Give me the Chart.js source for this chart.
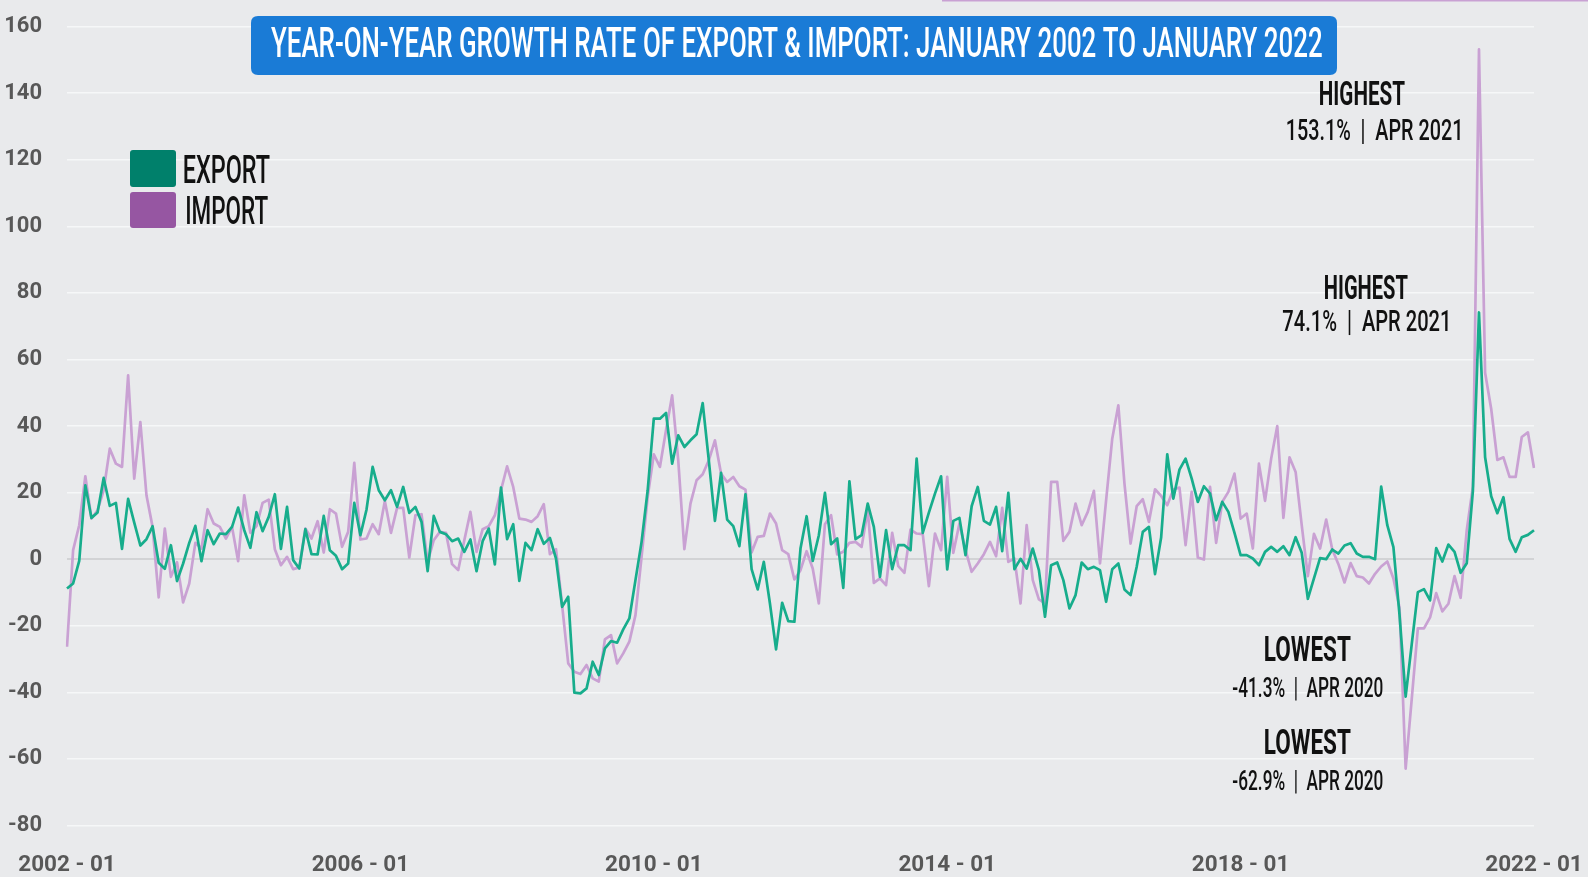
<!DOCTYPE html>
<html>
<head>
<meta charset="utf-8">
<title>Year-on-Year Growth Rate of Export & Import</title>
<script src="https://cdn.jsdelivr.net/npm/chart.js@4"></script>
<style>
  html, body { margin: 0; padding: 0; background: #e9eaec; }
  #wrap { width: 1588px; height: 877px; position: relative; }
  canvas { display: block; }
</style>
</head>
<body>
<div id="wrap"><canvas id="chart" width="1588" height="877"></canvas></div>
<script>
// ---------- DATA ----------
const startYear = 2002;
const monthCount = 241; // Jan 2002 .. Jan 2022
const categories = [];
for (let i = 0; i < monthCount; i++) {
  const y = startYear + Math.floor(i / 12);
  const m = (i % 12) + 1;
  categories.push(y + ' - ' + (m < 10 ? '0' + m : '' + m));
}

const xTickLabels = ['2002 - 01', '2006 - 01', '2010 - 01', '2014 - 01', '2018 - 01', '2022 - 01'];
const yTickValues = [-80, -60, -40, -20, 0, 20, 40, 60, 80, 100, 120, 140, 160];

const exportGrowth = [
  -8.8, -7.3, -0.5, 22.2, 12.4, 14.0, 24.4, 16.0, 16.9, 3.1, 18.1, 11.0,
  4.1, 6.0, 9.9, -1.1, -2.9, 4.2, -6.6, -1.3, 4.9, 10.0, -0.6, 8.7,
  4.5, 7.7, 7.5, 9.7, 15.5, 8.7, 3.4, 14.1, 8.4, 12.7, 19.5, 3.1,
  15.7, -0.3, -2.8, 9.0, 1.5, 1.4, 13.0, 2.7, 1.0, -3.0, -1.3, 16.9,
  7.2, 14.9, 27.7, 20.7, 17.7, 20.7, 15.7, 21.7, 13.9, 15.7, 11.2, -3.6,
  13.0, 8.2, 7.5, 5.4, 6.2, 2.2, 5.9, -3.6, 5.4, 9.2, -1.6, 21.5,
  6.0, 10.5, -6.5, 4.9, 2.7, 9.0, 4.6, 6.4, 0.2, -14.3, -11.3, -40.1,
  -40.3, -38.8, -30.8, -34.8, -26.8, -24.6, -25.1, -21.1, -17.8, -6.3, 5.2, 20.7,
  42.2, 42.2, 43.9, 28.7, 37.2, 33.7, 35.7, 37.5, 46.9, 29.7, 11.5, 25.9,
  11.9, 9.9, 3.9, 19.5, -3.0, -9.1, -0.8, -13.3, -27.1, -13.1, -18.6, -18.8,
  3.2, 12.9, -0.5, 7.2, 19.9, 4.5, 6.2, -8.6, 23.4, 6.0, 7.2, 16.7,
  9.7, -5.3, 8.7, -3.0, 4.2, 4.2, 2.7, 30.2, 7.9, 14.0, 19.7, 24.9,
  -3.1, 11.5, 12.4, 1.2, 15.9, 21.7, 11.5, 10.4, 15.7, 2.4, 19.9, -3.0,
  0.1, -2.8, 3.2, -3.3, -17.3, -1.8, -1.0, -6.3, -14.8, -10.8, -1.0, -3.0,
  -2.3, -3.3, -12.8, -3.0, -1.3, -9.1, -10.8, -2.3, 8.2, 9.7, -4.5, 6.5,
  31.5, 18.2, 26.9, 30.2, 24.2, 17.2, 21.9, 19.7, 11.7, 17.2, 14.2, 7.9,
  1.2, 1.2, 0.2, -1.8, 2.2, 3.7, 2.2, 3.9, 1.2, 6.6, 1.9, -11.9,
  -5.8, 0.3, 0.0, 2.9, 1.7, 4.1, 4.8, 1.7, 0.7, 0.7, 0.0, 21.8,
  10.2, 3.6, -16.7, -41.3, -25.5, -9.9, -9.0, -12.4, 3.3, -0.7, 4.4, 2.2,
  -4.1, -1.2, 20.4, 74.1, 30.6, 18.9, 13.8, 18.6, 6.1, 2.2, 6.6, 7.3,
  8.7
];

const importGrowth = [
  -26.3, 2.7, 10.2, 24.9, 12.2, 14.7, 20.7, 33.2, 28.7, 27.7, 55.2, 24.2,
  41.2, 19.2, 9.7, -11.5, 9.2, -5.3, -0.9, -13.0, -7.3, 4.9, 3.2, 15.0,
  10.7, 9.7, 6.2, 9.7, -0.6, 19.2, 7.9, 9.9, 16.9, 17.9, 3.0, -1.8,
  0.7, -3.0, -2.5, 9.2, 6.2, 11.4, 2.0, 15.0, 13.7, 3.7, 8.2, 28.9,
  5.9, 6.2, 10.5, 7.5, 17.5, 7.9, 15.4, 15.4, 0.5, 13.2, 13.5, -0.8,
  5.7, 8.2, 7.9, -1.5, -3.3, 5.7, 14.2, 2.2, 9.0, 9.9, 13.2, 20.7,
  27.9, 21.7, 12.2, 11.9, 11.2, 12.9, 16.5, 1.5, 3.0, -13.8, -31.3, -33.8,
  -34.5, -31.8, -35.8, -36.8, -24.1, -22.8, -31.3, -28.3, -24.8, -16.8, 0.7, 18.7,
  31.5, 27.7, 38.7, 49.2, 29.7, 3.0, 16.7, 23.7, 25.5, 29.7, 35.7, 25.7,
  23.2, 24.7, 21.9, 20.9, 2.0, 6.7, 7.0, 13.7, 10.7, 2.7, 1.5, -6.1,
  -3.3, 2.4, -2.8, -13.3, 10.5, 13.2, 1.4, 2.2, 4.9, 5.2, 3.7, 14.7,
  -7.1, -5.8, -7.8, 7.9, -2.1, -4.1, 8.9, 7.7, 7.5, -8.1, 7.7, 2.7,
  24.7, 1.9, 10.7, 2.7, -3.8, -1.3, 1.5, 5.2, 0.9, 15.4, -0.8, 0.2,
  -13.3, 10.2, -6.3, -12.1, -13.3, 23.2, 23.2, 5.5, 8.2, 16.7, 10.2, 14.2,
  20.5, -1.3, 17.7, 36.2, 46.2, 22.7, 4.7, 15.9, 18.0, 11.2, 21.0, 19.0,
  16.2, 20.9, 21.5, 4.2, 20.2, 0.5, -0.1, 21.7, 4.9, 17.2, 20.2, 25.7,
  12.2, 13.7, 3.2, 28.7, 17.5, 30.2, 40.0, 12.4, 30.6, 26.2, 10.2, -5.1,
  7.6, 3.2, 11.9, 2.9, -1.5, -7.0, -1.2, -5.1, -5.5, -7.3, -4.4, -2.2,
  -0.7, -5.8, -14.6, -62.9, -42.0, -20.8, -20.8, -17.5, -10.2, -15.7, -13.4, -5.1,
  -11.6, 8.7, 21.8, 153.1, 56.0, 45.1, 29.8, 30.6, 24.7, 24.7, 36.7, 38.1,
  27.4
];

const seriesNames = ['EXPORT', 'IMPORT'];
const titleText = 'YEAR-ON-YEAR GROWTH RATE OF EXPORT & IMPORT: JANUARY 2002 TO JANUARY 2022';
const annotationTexts = [
  ['HIGHEST', '153.1%  |  APR 2021'],
  ['HIGHEST', '74.1%  |  APR 2021'],
  ['LOWEST', '-41.3%  |  APR 2020'],
  ['LOWEST', '-62.9%  |  APR 2020']
];

// ---------- STYLE ----------
const BG = '#e9eaec';
const EXPORT_LINE = '#17ad8c';
const IMPORT_LINE = '#c9a1d3';
const EXPORT_KEY = '#00806b';
const IMPORT_KEY = '#9656a2';
const TITLE_BG = '#1a7bd6';
const FONT = 'Roboto, "Liberation Sans", Arial, sans-serif';

// draw text stretched into a box (left..right, capTop..capBottom)
function boxText(ctx, text, left, right, capTop, capBottom, color, weight) {
  const cap = capBottom - capTop;
  const size = cap / 0.711;
  ctx.save();
  ctx.font = weight + ' ' + size.toFixed(2) + 'px ' + FONT;
  ctx.fillStyle = color;
  ctx.textAlign = 'left';
  ctx.textBaseline = 'alphabetic';
  const m = ctx.measureText(text);
  const w = (m.actualBoundingBoxRight !== undefined) ? (m.actualBoundingBoxRight + m.actualBoundingBoxLeft) : m.width;
  const sx = (right - left) / w;
  ctx.translate(left, capBottom);
  ctx.scale(sx, 1);
  ctx.fillText(text, m.actualBoundingBoxLeft || 0, 0);
  ctx.restore();
}

function roundRect(ctx, x, y, w, h, r) {
  ctx.beginPath();
  ctx.moveTo(x + r, y);
  ctx.lineTo(x + w - r, y);
  ctx.quadraticCurveTo(x + w, y, x + w, y + r);
  ctx.lineTo(x + w, y + h - r);
  ctx.quadraticCurveTo(x + w, y + h, x + w - r, y + h);
  ctx.lineTo(x + r, y + h);
  ctx.quadraticCurveTo(x, y + h, x, y + h - r);
  ctx.lineTo(x, y + r);
  ctx.quadraticCurveTo(x, y, x + r, y);
  ctx.closePath();
}

const backgroundPlugin = {
  id: 'bg',
  beforeDraw(chart) {
    const ctx = chart.ctx;
    ctx.save();
    ctx.fillStyle = BG;
    ctx.fillRect(0, 0, chart.width, chart.height);
    ctx.restore();
  }
};

const decorPlugin = {
  id: 'decor',
  afterDraw(chart) {
    const ctx = chart.ctx;
    // thin lilac rule at the very top (present in the original image)
    ctx.save();
    ctx.strokeStyle = IMPORT_LINE;
    ctx.lineWidth = 2;
    ctx.beginPath();
    ctx.moveTo(942, 0.5);
    ctx.lineTo(1588, 0.5);
    ctx.stroke();
    ctx.restore();

    // title box
    ctx.save();
    ctx.fillStyle = TITLE_BG;
    roundRect(ctx, 251, 16, 1086, 59, 7);
    ctx.fill();
    ctx.restore();
    boxText(ctx, titleText, 271, 1322, 27, 57, '#ffffff', 500);

    // legend
    ctx.save();
    ctx.fillStyle = EXPORT_KEY;
    roundRect(ctx, 130, 150, 46, 37, 3);
    ctx.fill();
    ctx.fillStyle = IMPORT_KEY;
    roundRect(ctx, 130, 192, 46, 36, 3);
    ctx.fill();
    ctx.restore();
    boxText(ctx, seriesNames[0], 184, 270, 156, 183, '#111111', 500);
    boxText(ctx, seriesNames[1], 187, 268, 197, 224, '#111111', 500);

    // annotations
    const a = annotationTexts;
    boxText(ctx, a[0][0], 1320, 1405, 81, 105, '#111111', 700);
    boxText(ctx, a[0][1], 1287, 1460, 118, 139.5, '#111111', 500);
    boxText(ctx, a[1][0], 1325, 1408, 275, 299, '#111111', 700);
    boxText(ctx, a[1][1], 1283, 1448, 309.5, 331, '#111111', 500);
    boxText(ctx, a[2][0], 1265, 1351, 636, 661, '#111111', 700);
    boxText(ctx, a[2][1], 1233, 1383, 677.5, 697, '#111111', 500);
    boxText(ctx, a[3][0], 1265, 1351, 729, 754, '#111111', 700);
    boxText(ctx, a[3][1], 1233, 1383, 770, 789.5, '#111111', 500);
  }
};

const ctx = document.getElementById('chart').getContext('2d');
new Chart(ctx, {
  type: 'line',
  data: {
    labels: categories,
    datasets: [
      {
        label: seriesNames[0],
        data: exportGrowth,
        borderColor: EXPORT_LINE,
        backgroundColor: EXPORT_LINE,
        borderWidth: 2.7,
        pointRadius: 0,
        pointHoverRadius: 0,
        tension: 0,
        borderJoinStyle: 'round',
        fill: false
      },
      {
        label: seriesNames[1],
        data: importGrowth,
        borderColor: IMPORT_LINE,
        backgroundColor: IMPORT_LINE,
        borderWidth: 2.7,
        pointRadius: 0,
        pointHoverRadius: 0,
        tension: 0,
        borderJoinStyle: 'round',
        fill: false
      }
    ]
  },
  options: {
    responsive: false,
    animation: false,
    events: [],
    layout: { padding: { left: 0, right: 54, top: 26.5, bottom: 0 } },
    plugins: {
      legend: { display: false },
      title: { display: false },
      tooltip: { enabled: false }
    },
    scales: {
      x: {
        type: 'category',
        offset: false,
        grid: { display: false, drawTicks: false },
        border: { display: false },
        afterBuildTicks(scale) {
          scale.ticks = scale.ticks.filter(t => xTickLabels.indexOf(categories[t.value]) !== -1);
        },
        afterFit(scale) {
          scale.height = 51.5;
          scale.paddingLeft = 0; scale.paddingRight = 0;
          scale.paddingTop = 0; scale.paddingBottom = 0;
        },
        ticks: {
          autoSkip: false,
          maxRotation: 0,
          minRotation: 0,
          padding: 26,
          color: '#585858',
          font: { family: FONT, size: 22.5, weight: 'bold' },
          callback(value) { return categories[value]; }
        }
      },
      y: {
        min: yTickValues[0],
        max: yTickValues[yTickValues.length - 1],
        afterBuildTicks(scale) {
          scale.ticks = yTickValues.map(v => ({ value: v }));
        },
        afterFit(scale) {
          scale.width = 67;
          scale.paddingLeft = 0; scale.paddingRight = 0;
          scale.paddingTop = 0; scale.paddingBottom = 0;
        },
        border: { display: false },
        grid: {
          drawTicks: false,
          color: c => (c.tick && c.tick.value === 0) ? '#d2d3d5' : '#f6f7f8',
          lineWidth: c => (c.tick && c.tick.value === 0) ? 2 : 1.5
        },
        ticks: {
          padding: 25,
          color: '#585858',
          font: { family: FONT, size: 22, weight: 'bold' }
        }
      }
    }
  },
  plugins: [backgroundPlugin, decorPlugin]
});
</script>
</body>
</html>
